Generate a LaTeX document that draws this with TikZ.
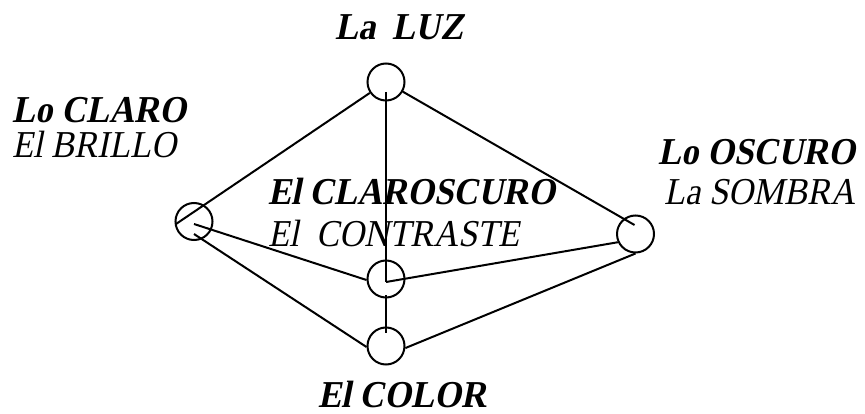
\documentclass[tikz,border=0pt]{standalone}
\usepackage{fontspec}
\setmainfont{Liberation Serif}
\newfontfamily\slfont{Liberation Serif}[FakeSlant=0.2,FakeStretch=0.91]
\begin{document}
\begin{tikzpicture}[x=1pt,y=-1pt,
  ring/.style={draw,circle,line width=2pt,minimum size=37pt,inner sep=0pt},
  edge/.style={line width=2pt},
  bi/.style={anchor=base west,inner sep=0pt,font=\fontsize{38}{44}\slfont\bfseries},
  it/.style={anchor=base west,inner sep=0pt,font=\fontsize{38}{44}\slfont}]
\useasboundingbox (0,0) rectangle (865,414);
% circles
\node[ring] (T) at (386,82) {};
\node[ring] (L) at (194,221.5) {};
\node[ring] (R) at (635.5,234) {};
\node[ring] (M) at (386,279) {};
\node[ring] (B) at (386,346) {};
% connectors
\draw[edge] ([shift={(-18,2.5)}]L.center) -- (T);
\draw[edge] ([shift={(-1,-9)}]R.center) -- (T);
\draw[edge] ([shift={(0,10)}]T.center) -- ([shift={(0,3)}]M.center);
\draw[edge] ([shift={(0,16)}]M.center) -- ([shift={(0,-13)}]B.center);
\draw[edge] ([shift={(0,2.5)}]L.center) -- (M.183);
\draw[edge] ([shift={(0,12.5)}]L.center) -- (B.183);
\draw[edge] ([shift={(0,3)}]M.center) -- (R.205);
\draw[edge] (R.south) -- (B.-6);
% labels
\node[bi] (tLuz) at (335,40) {La~~LUZ};
\node[bi] (tClaro) at (12,123) {Lo CLARO};
\node[it] (tBrillo) at (12,158) {El BRILLO};
\node[bi] (tClaroscuro) at (268,205) {El CLAROSCURO};
\node[it] (tContraste) at (268,247) {El~~CONTRASTE};
\node[bi] (tOscuro) at (658,165) {Lo OSCURO};
\node[it] (tSombra) at (664,205) {La SOMBRA};
\node[bi] (tColor) at (318,407) {El COLOR};
\end{tikzpicture}
\end{document}
